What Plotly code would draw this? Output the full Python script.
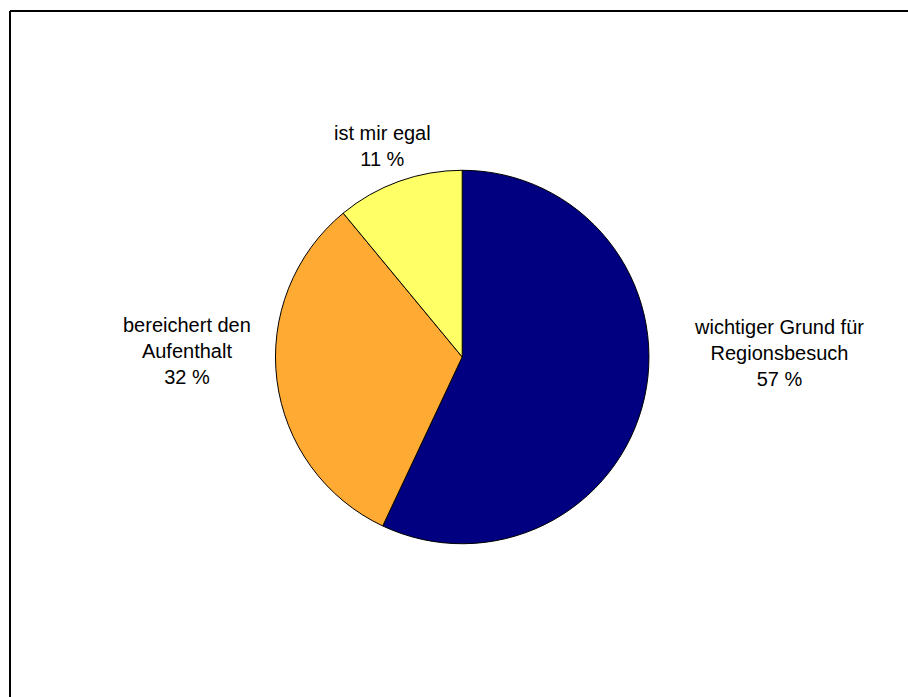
import plotly.graph_objects as go

# Survey answers and their shares in percent
categories = ["wichtiger Grund für<br>Regionsbesuch", "bereichert den<br>Aufenthalt", "ist mir egal"]
shares = [57, 32, 11]
colors = ["#000080", "#FFAA33", "#FFFF66"]

# Label placement (paper coordinates) for each slice caption
label_x = [0.858, 0.206, 0.421]
label_y = [0.4935, 0.4964, 0.7905]

fig = go.Figure(
    go.Pie(
        labels=categories,
        values=shares,
        sort=False,
        direction="clockwise",
        rotation=0,
        textinfo="none",
        hoverinfo="label+percent",
        marker=dict(colors=colors, line=dict(color="black", width=1)),
        domain=dict(x=[0.3034, 0.7147], y=[0.2195, 0.7561]),
        showlegend=False,
    )
)

annotations = [
    dict(
        x=x, y=y, xref="paper", yref="paper",
        text=f"{cat}<br>{val} %",
        showarrow=False, xanchor="center", yanchor="middle",
        font=dict(family="Liberation Sans, Arial, sans-serif", size=20, color="black"),
    )
    for cat, val, x, y in zip(categories, shares, label_x, label_y)
]

# Frame lines along the top and left edge
shapes = [
    dict(type="line", xref="paper", yref="paper", x0=10 / 908, x1=1.0,
         y0=1 - 11 / 697, y1=1 - 11 / 697, line=dict(color="black", width=2)),
    dict(type="line", xref="paper", yref="paper", x0=10 / 908, x1=10 / 908,
         y0=0.0, y1=1 - 11 / 697, line=dict(color="black", width=2)),
]

fig.update_layout(
    width=908, height=697,
    margin=dict(l=0, r=0, t=0, b=0),
    paper_bgcolor="white", plot_bgcolor="white",
    annotations=annotations,
    shapes=shapes,
)

fig.write_html("out.html")
